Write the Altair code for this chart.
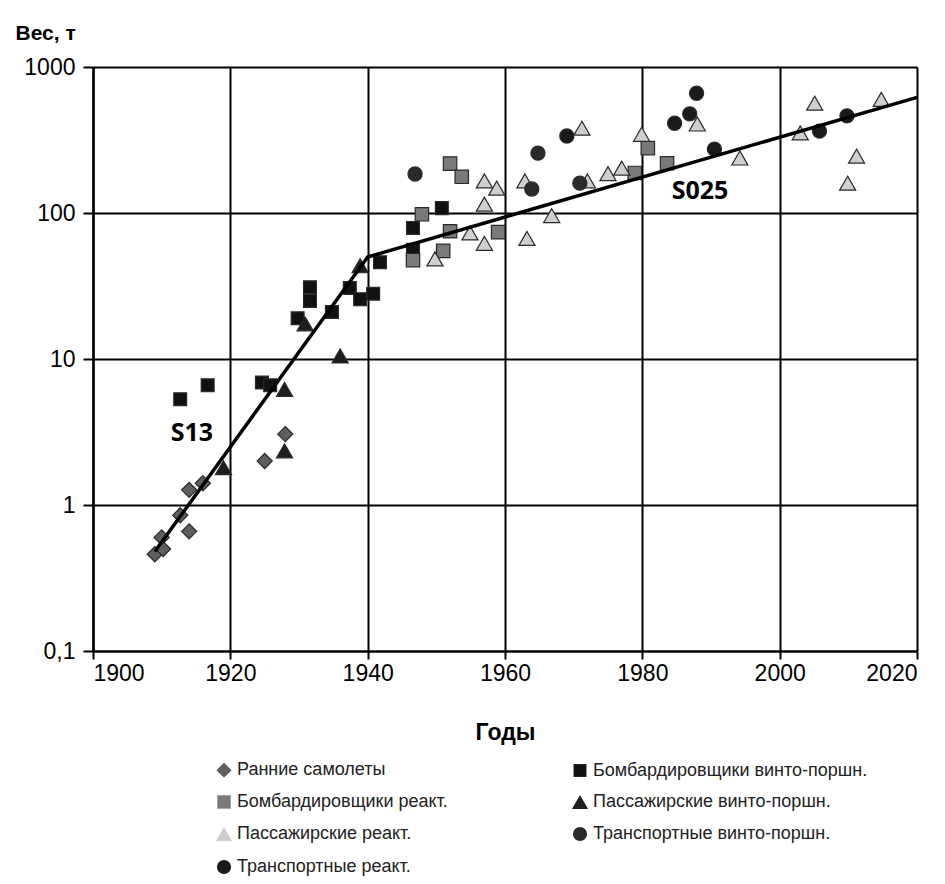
import altair as alt
import pandas as pd

series_names = [
    "Ранние самолеты",
    "Бомбардировщики винто-поршн.",
    "Бомбардировщики реакт.",
    "Пассажирские винто-поршн.",
    "Пассажирские реакт.",
    "Транспортные винто-поршн.",
    "Транспортные реакт.",
]

early_years = [1909, 1910, 1910.2, 1912.7, 1914, 1914, 1916, 1925, 1928]
early_vals = [0.46, 0.60, 0.50, 0.85, 0.66, 1.27, 1.41, 2.0, 3.06]

bprop_years = [1912.7, 1916.7, 1924.6, 1925.8, 1929.8, 1931.6, 1931.6, 1934.8, 1937.4, 1938.9, 1940.8, 1941.8, 1946.6, 1946.6, 1950.8]
bprop_vals = [5.3, 6.6, 6.9, 6.6, 19, 31, 25, 21, 30.6, 25.7, 28, 46, 79, 56, 108]

bjet_years = [1946.6, 1947.9, 1951, 1952, 1952, 1953.7, 1959, 1978.9, 1980.8, 1983.6]
bjet_vals = [47.6, 98, 55, 75, 218, 177, 74, 188, 278, 219]

pprop_years = [1919, 1927.9, 1927.9, 1930.9, 1936, 1938.9]
pprop_vals = [1.8, 6.2, 2.35, 17.4, 10.5, 43.5]

pjet_years = [1949.8, 1954.9, 1957, 1957, 1957, 1958.8, 1962.9, 1963.2, 1966.8, 1971.2, 1972, 1975, 1977, 1979.9, 1988, 1994.2, 2003, 2005.1, 2009.9, 2011.2, 2014.8]
pjet_vals = [48.5, 73, 166, 115, 62, 148, 166, 67, 96, 381, 166, 186, 203, 346, 407, 238, 354, 565, 160, 245, 600]

tprop_years = [1946.9, 1963.9, 1964.8, 1970.9]
tprop_vals = [185, 146, 257, 160]

tjet_years = [1969, 1984.7, 1986.9, 1987.9, 1990.5, 2005.8, 2009.8]
tjet_vals = [337, 412, 478, 661, 274, 364, 463]

trend_years = [1909, 1940, 2020]
trend_vals = [0.48, 50, 620]

label_texts = ["S13", "S025"]
label_years = [1914.4, 1988.4]
label_vals = [3.1, 141]

x_ticks = [1900, 1920, 1940, 1960, 1980, 2000, 2020]
y_ticks = [0.1, 1, 10, 100, 1000]

all_years = [early_years, bprop_years, bjet_years, pprop_years, pjet_years, tprop_years, tjet_years]
all_vals = [early_vals, bprop_vals, bjet_vals, pprop_vals, pjet_vals, tprop_vals, tjet_vals]

rows = []
for name, ys, vs in zip(series_names, all_years, all_vals):
    for y, v in zip(ys, vs):
        rows.append({"year": y, "weight": v, "series": name})
pts = pd.DataFrame(rows)

trend = pd.DataFrame({"year": trend_years, "weight": trend_vals})
labels = pd.DataFrame({"year": label_years, "weight": label_vals, "text": label_texts})

shapes = ["diamond", "square", "square", "triangle-up", "triangle-up", "circle", "circle"]
fills = ["#5e5e5e", "#111111", "#7a7a7a", "#1e1e1e", "#cfcfcf", "#2a2a2a", "#1a1a1a"]
sizes = [230, 165, 180, 260, 260, 200, 200]

# legend fills column by column: order so rows read as in the reference
legend_order = [0, 2, 4, 6, 1, 3, 5]
dom = [series_names[i] for i in legend_order]
shp = [shapes[i] for i in legend_order]
fil = [fills[i] for i in legend_order]
siz = [sizes[i] for i in legend_order]

xscale = alt.Scale(domain=[1900, 2020], nice=False, zero=False)
yscale = alt.Scale(type="log", domain=[0.1, 1000], nice=False)

xaxis = alt.Axis(values=x_ticks, format="d", title="Годы", grid=True, gridColor="#000000",
                 gridWidth=2, domainColor="#000000", domainWidth=2, tickColor="#000000",
                 tickWidth=2, tickSize=8, labelFontSize=23, labelPadding=3,
                 titleFontSize=23, titleFontWeight="bold", titlePadding=36, labelColor="#000000",
                 titleColor="#000000")
yaxis = alt.Axis(values=y_ticks, title="Вес, т", grid=True, gridColor="#000000", gridWidth=2,
                 domainColor="#000000", domainWidth=2.5, tickColor="#000000", tickWidth=2,
                 tickSize=10, labelFontSize=23, labelPadding=8, labelColor="#000000",
                 labelExpr="datum.value < 1 ? '0,1' : format(datum.value, 'd')",
                 titleAngle=0, titleAlign="left", titleBaseline="alphabetic",
                 titleX=-78, titleY=-28, titleFontSize=21, titleFontWeight="bold",
                 titleColor="#000000")

legend = alt.Legend(title=None, orient="none", legendX=122, legendY=694,
                    columns=2, columnPadding=121, rowPadding=13,
                    labelFontSize=18, labelColor="#222222",
                    symbolStrokeColor="#2a2a2a",
                    symbolStrokeWidth=1, labelLimit=400)

points = alt.Chart(pts).mark_point(filled=True, stroke="#2a2a2a", strokeWidth=1.2, opacity=1).encode(
    x=alt.X("year:Q", scale=xscale, axis=xaxis),
    y=alt.Y("weight:Q", scale=yscale, axis=yaxis),
    shape=alt.Shape("series:N", scale=alt.Scale(domain=dom, range=shp), legend=legend),
    fill=alt.Fill("series:N", scale=alt.Scale(domain=dom, range=fil), legend=legend),
    size=alt.Size("series:N", scale=alt.Scale(type="ordinal", domain=dom, range=siz), legend=legend),
)

line = alt.Chart(trend).mark_line(color="#000000", strokeWidth=3.5).encode(
    x=alt.X("year:Q", scale=xscale),
    y=alt.Y("weight:Q", scale=yscale),
)

text = alt.Chart(labels).mark_text(font="Noto Sans", fontWeight="bold", fontSize=25, color="#000000").encode(
    x=alt.X("year:Q", scale=xscale),
    y=alt.Y("weight:Q", scale=yscale),
    text="text:N",
)

chart = alt.layer(points, line, text).properties(
    width=824, height=584, padding={"left": 7, "top": 14, "right": 10, "bottom": 5}
).configure_view(stroke="#8a8a8a", strokeWidth=2).configure(
    font="Liberation Sans", background="#ffffff"
)

chart.save("out.html", embed_options={"renderer": "svg", "actions": False})
